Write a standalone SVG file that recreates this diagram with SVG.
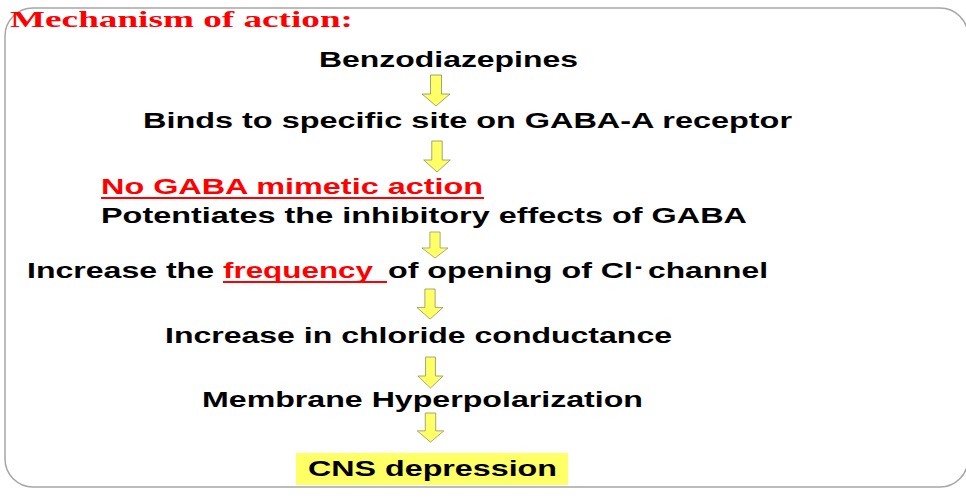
<svg xmlns="http://www.w3.org/2000/svg" xmlns:xlink="http://www.w3.org/1999/xlink" width="966" height="498" viewBox="0 0 966 498">
<style>
.t{font-family:"Liberation Sans",Arial,sans-serif;font-weight:bold;font-size:21.5px;fill:#000}
.r{fill:#ff0000}
.title{font-family:"Liberation Serif","Times New Roman",serif;font-weight:bold;font-size:23.5px;fill:#ff0000}
.arr{fill:#ffff66;stroke:#8c8c5a;stroke-width:0.8;stroke-linejoin:miter}
.ul{stroke:#ff0000;stroke-width:2}
</style>
<defs>
<path id="arrow" class="arr" d="M-5.5,0 H5.5 V19 H14 L0,31 L-14,19 H-5.5 Z"/>
</defs>
<rect width="966" height="498" fill="#ffffff"/>
<rect x="5" y="8" width="963" height="479" rx="28" ry="28" fill="none" stroke="#a6a6a6" stroke-width="1.5"/>
<text class="title" x="10" y="27" textLength="343" lengthAdjust="spacingAndGlyphs">Mechanism of action:</text>

<g id="connectors">
<use xlink:href="#arrow" transform="translate(436,75)"/>
<use xlink:href="#arrow" transform="translate(437,141) scale(0.95,1)"/>
<use xlink:href="#arrow" transform="translate(435,232) scale(0.93,0.84)"/>
<use xlink:href="#arrow" transform="translate(430,289) scale(0.93,0.97)"/>
<use xlink:href="#arrow" transform="translate(430.5,357) scale(0.9,1)"/>
<use xlink:href="#arrow" transform="translate(430.5,413) scale(0.95,0.94)"/>
</g>

<g id="n1"><text class="t" x="319" y="67" textLength="259" lengthAdjust="spacingAndGlyphs">Benzodiazepines</text></g>
<g id="n2"><text class="t" x="143" y="128" textLength="649" lengthAdjust="spacingAndGlyphs">Binds to specific site on GABA-A receptor</text></g>
<g id="n3">
<text class="t r" x="101" y="194" textLength="382" lengthAdjust="spacingAndGlyphs">No GABA mimetic action</text>
<line class="ul" x1="101" y1="198" x2="484" y2="198"/>
<text class="t" x="101" y="223" textLength="646" lengthAdjust="spacingAndGlyphs">Potentiates the inhibitory effects of GABA</text>
</g>
<g id="n4">
<text class="t" x="27" y="278" textLength="187" lengthAdjust="spacingAndGlyphs">Increase the</text>
<text class="t r" x="223" y="278" textLength="150" lengthAdjust="spacingAndGlyphs">frequency</text>
<line class="ul" x1="223" y1="282" x2="387" y2="282"/>
<text class="t" x="388" y="278" textLength="245" lengthAdjust="spacingAndGlyphs">of opening of Cl</text>
<text class="t" x="635" y="273" font-size="15" textLength="7" lengthAdjust="spacingAndGlyphs">-</text>
<text class="t" x="648" y="278" textLength="120" lengthAdjust="spacingAndGlyphs">channel</text>
</g>
<g id="n5"><text class="t" x="165" y="343" textLength="507" lengthAdjust="spacingAndGlyphs">Increase in chloride conductance</text></g>
<g id="n6"><text class="t" x="202" y="407" textLength="441" lengthAdjust="spacingAndGlyphs">Membrane Hyperpolarization</text></g>
<g id="n7">
<rect x="296" y="453" width="272" height="32" fill="#ffff66"/>
<text class="t" x="308" y="476" textLength="249" lengthAdjust="spacingAndGlyphs">CNS depression</text>
</g>
</svg>
